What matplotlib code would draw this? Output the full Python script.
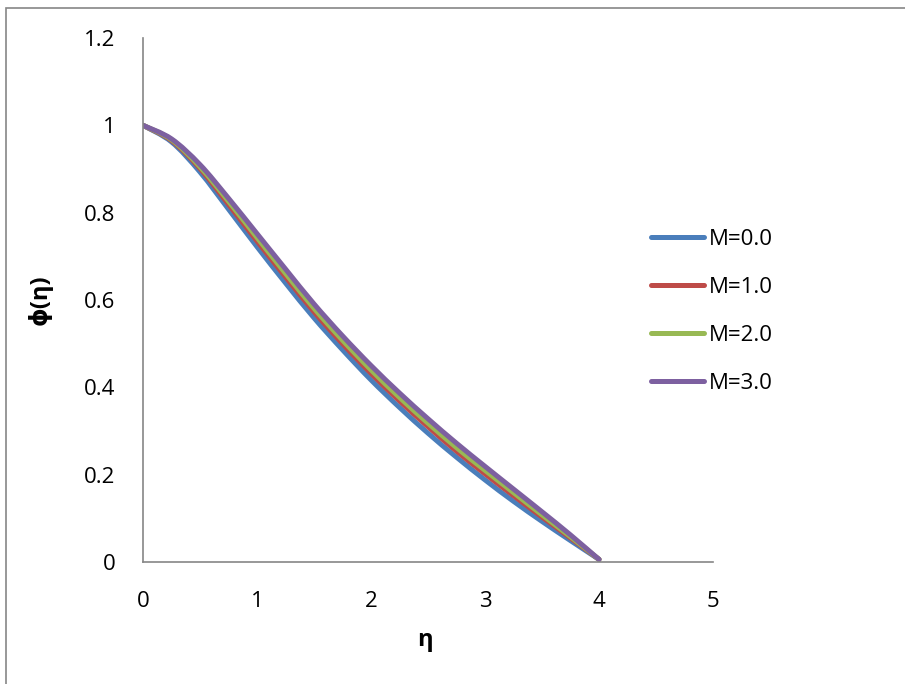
import matplotlib
matplotlib.use("Agg")
import matplotlib.pyplot as plt
from matplotlib.patches import Rectangle, PathPatch
from matplotlib.path import Path
from matplotlib.lines import Line2D

eta = [0.0, 0.25, 0.5, 0.75, 1.0, 1.25, 1.5, 1.75, 2.0, 2.25, 2.5, 2.75, 3.0, 3.25, 3.5, 3.75, 4.0]
phi_M0 = [1.0, 0.962, 0.893, 0.808, 0.722, 0.639, 0.559, 0.486, 0.417, 0.354, 0.295, 0.240, 0.188, 0.139, 0.093, 0.049, 0.006]
phi_M1 = [1.0, 0.965, 0.901, 0.819, 0.735, 0.653, 0.573, 0.500, 0.432, 0.369, 0.310, 0.254, 0.202, 0.152, 0.103, 0.055, 0.006]
phi_M2 = [1.0, 0.967, 0.905, 0.826, 0.743, 0.661, 0.581, 0.508, 0.440, 0.377, 0.318, 0.262, 0.210, 0.159, 0.108, 0.058, 0.006]
phi_M3 = [1.0, 0.969, 0.910, 0.833, 0.752, 0.671, 0.591, 0.518, 0.450, 0.387, 0.328, 0.272, 0.219, 0.167, 0.115, 0.062, 0.006]
labels = ["M=0.0", "M=1.0", "M=2.0", "M=3.0"]
colors = ["#4A7EBB", "#BE4B48", "#98B954", "#7D60A0"]
xticks = [0, 1, 2, 3, 4, 5]
yticks = [0, 0.2, 0.4, 0.6, 0.8, 1.0, 1.2]
ytick_labels = ["0", "0.2", "0.4", "0.6", "0.8", "1", "1.2"]

plt.rcParams['font.family'] = ['Open Sans', 'DejaVu Sans']


def smooth_path(xs, ys):
    """Excel-style smoothed line: cubic Bezier segments through the data points."""
    n = len(xs)
    verts = [(xs[0], ys[0])]
    codes = [Path.MOVETO]
    for i in range(n - 1):
        i0 = max(i - 1, 0)
        i3 = min(i + 2, n - 1)
        c1 = (xs[i] + (xs[i + 1] - xs[i0]) / 6.0, ys[i] + (ys[i + 1] - ys[i0]) / 6.0)
        c2 = (xs[i + 1] - (xs[i3] - xs[i]) / 6.0, ys[i + 1] - (ys[i3] - ys[i]) / 6.0)
        verts += [c1, c2, (xs[i + 1], ys[i + 1])]
        codes += [Path.CURVE4] * 3
    return Path(verts, codes)


fig = plt.figure(figsize=(9.05, 6.84), dpi=100)
ax = fig.add_axes([143/905, 1-562/684, (713-143)/905, (562-38)/684])

handles = []
for ys, lab, c in zip([phi_M0, phi_M1, phi_M2, phi_M3], labels, colors):
    patch = PathPatch(smooth_path(eta, ys), facecolor='none', edgecolor=c, lw=3.6,
                      capstyle='round', joinstyle='round')
    ax.add_patch(patch)
    handles.append(Line2D([], [], color=c, lw=3.6, solid_capstyle='round', label=lab))

ax.set_xlim(0, 5)
ax.set_ylim(0, 1.2)
ax.set_xticks(xticks)
ax.set_xticklabels([str(v) for v in xticks])
ax.set_yticks(yticks)
ax.set_yticklabels(ytick_labels)
for s in ['top', 'right']:
    ax.spines[s].set_visible(False)
for s in ['left', 'bottom']:
    ax.spines[s].set_color('#868686')
    ax.spines[s].set_linewidth(1.2)
ax.tick_params(axis='both', length=0, labelsize=16)
ax.tick_params(axis='y', pad=20)
ax.tick_params(axis='x', pad=21)

fig.text(40/905, 1-300/684, "ϕ(η)", rotation=90, fontsize=17, fontweight='bold',
         ha='center', va='center')
fig.text(425/905, 1-640/684, "η", fontsize=17, fontweight='bold', ha='center', va='center')

leg = ax.legend(handles=handles, loc='center left', bbox_to_anchor=(642/905, 1-311.5/684),
                bbox_transform=fig.transFigure, frameon=False, fontsize=16, handlelength=2.4,
                handletextpad=0.2, labelspacing=1.21, borderaxespad=0)

fig.patches.append(Rectangle((6/905, -0.1), 1.2, 1 - 8/684 + 0.1, transform=fig.transFigure,
                             fill=False, edgecolor='#868686', lw=1.2))

fig.savefig("out.png", dpi=100)
